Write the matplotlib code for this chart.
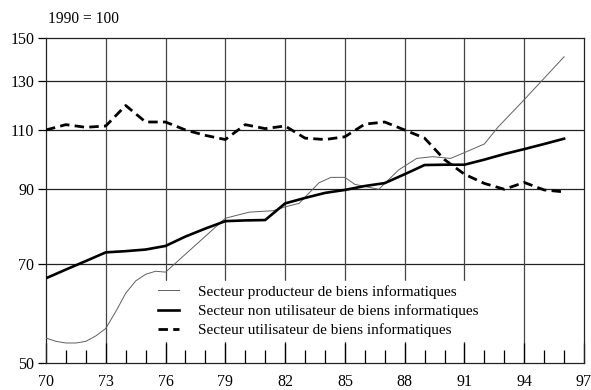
import numpy as np
import matplotlib
matplotlib.use('Agg')
import matplotlib.pyplot as plt
from matplotlib.ticker import FixedLocator, NullFormatter, NullLocator

plt.rcParams['font.family'] = 'serif'
plt.rcParams['font.serif'] = ['Liberation Serif', 'DejaVu Serif']

# indices 1990 = 100, yearly
years = list(range(70, 97))
non_utilisateur = [66.6, 68.6, 70.6, 72.7, 73.0, 73.4, 74.3, 76.7, 78.8, 80.8,
                   81.0, 81.1, 85.8, 87.4, 88.9, 89.8, 91.0, 91.9, 94.7, 97.7,
                   97.8, 97.8, 99.5, 101.4, 103.1, 104.9, 106.8]
utilisateur = [110.0, 112.0, 111.0, 111.5, 119.5, 113.0, 113.0, 110.0, 108.0, 106.5,
               112.0, 110.5, 111.5, 107.0, 106.5, 107.5, 112.2, 113.0, 110.0, 107.0,
               99.5, 94.7, 91.8, 90.0, 92.1, 89.8, 89.2]

# producing sector, finer time steps
years_prod = [70.0, 70.5, 71.0, 71.5, 72.0, 72.5, 73.0, 73.5, 74.0, 74.5, 75.0, 75.5,
              76.0, 79.0, 80.2, 81.4, 82.0, 82.7, 83.7, 84.3, 85.0, 85.5, 86.7, 87.7,
              88.6, 89.4, 90.3, 90.9, 92.0, 92.7, 93.9, 96.0]
producteur = [54.4, 53.8, 53.5, 53.5, 53.8, 54.8, 56.2, 59.5, 63.3, 66.0, 67.5, 68.2,
              68.0, 81.6, 83.3, 83.7, 84.8, 85.8, 92.0, 93.7, 93.7, 91.5, 90.0, 96.1,
              99.9, 100.5, 99.9, 101.6, 104.9, 111.2, 121.0, 140.9]

y_ticks = [50, 70, 90, 110, 130, 150]
x_major = list(range(70, 98, 3))

fig = plt.figure(figsize=(5.91, 3.90), dpi=100)
ax = fig.add_axes([46 / 591, 27 / 390, 538 / 591, 324.7 / 390])

ax.set_yscale('log')
ax.set_ylim(50, 150)
ax.set_xlim(70, 97)

# grid drawn by hand so the legend box can hide it
for v in y_ticks[1:-1]:
    ax.axhline(v, color='#222222', lw=0.9, zorder=1)
for x in x_major[1:-1]:
    ax.axvline(x, color='#444444', lw=0.9, zorder=1)

ax.plot(years_prod, producteur, color='#606060', lw=0.7, zorder=3,
        label='Secteur producteur de biens informatiques')
ax.plot(years, non_utilisateur, color='black', lw=1.9, zorder=3,
        label='Secteur non utilisateur de biens informatiques')
ax.plot(years, utilisateur, color='black', lw=2.0, dashes=(3.4, 1.9), zorder=3,
        label='Secteur utilisateur de biens informatiques')

ax.yaxis.set_major_locator(FixedLocator(y_ticks))
ax.yaxis.set_minor_locator(NullLocator())
ax.yaxis.set_minor_formatter(NullFormatter())
ax.set_yticklabels([str(v) for v in y_ticks])
ax.tick_params(axis='y', which='major', direction='out', length=5.8, width=0.9,
               pad=2.5, labelsize=11.5)

ax.xaxis.set_major_locator(FixedLocator(x_major))
ax.xaxis.set_minor_locator(FixedLocator(list(range(70, 98))))
ax.set_xticklabels([str(v) for v in x_major])
ax.tick_params(axis='x', which='major', direction='in', length=14.4, width=0.9,
               pad=8, labelsize=11.5)
ax.tick_params(axis='x', which='minor', direction='in', length=9.4, width=0.9)

for s in ax.spines.values():
    s.set_linewidth(0.9)
    s.set_color('#222222')

leg = ax.legend(loc='center', bbox_to_anchor=(0.5056, 0.160), fontsize=11,
                frameon=True, fancybox=False, framealpha=1, facecolor='white',
                edgecolor='white', handlelength=1.4, handletextpad=1.25,
                labelspacing=0.36, borderpad=0.25)
leg.set_zorder(5)

fig.text(48 / 591, 1 - 19 / 390, '1990 = 100', ha='left', va='center', fontsize=11.2)

fig.savefig('out.png', dpi=100)
